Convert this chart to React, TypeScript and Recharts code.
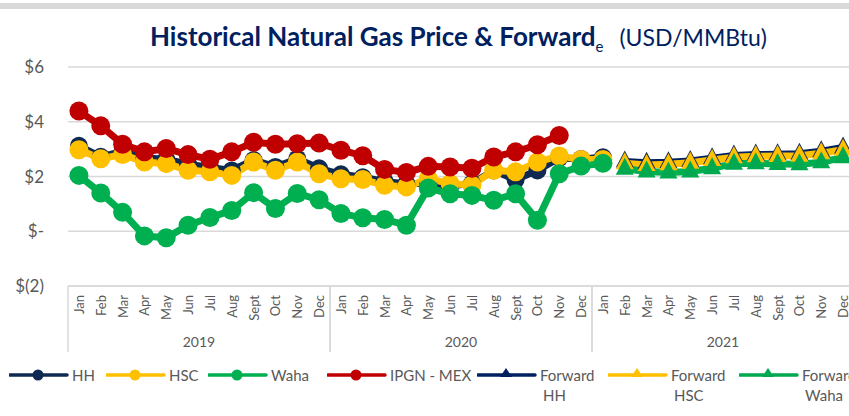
import { LineChart, Line, XAxis, YAxis, CartesianGrid } from 'recharts';

const months = ['Jan', 'Feb', 'Mar', 'Apr', 'May', 'Jun', 'Jul', 'Aug', 'Sept', 'Oct', 'Nov', 'Dec'];
const years = ['2019', '2020', '2021'];
const yTicks = [-2, 0, 2, 4, 6];

// historical, Jan 2019 .. Jan 2021
const hh = [3.12, 2.72, 2.92, 2.68, 2.63, 2.45, 2.33, 2.22, 2.6, 2.35, 2.65, 2.3, 2.08, 1.97, 1.82, 1.73, 1.76, 1.66, 1.74, 2.22, 1.88, 2.22, 2.68, 2.64, 2.7];
const hsc = [2.98, 2.65, 2.8, 2.53, 2.47, 2.23, 2.17, 2.04, 2.53, 2.23, 2.53, 2.1, 1.92, 1.89, 1.68, 1.62, 1.92, 1.74, 1.68, 2.23, 2.17, 2.53, 2.75, 2.62, 2.62];
const waha = [2.04, 1.4, 0.69, -0.17, -0.24, 0.22, 0.5, 0.76, 1.41, 0.83, 1.38, 1.15, 0.65, 0.49, 0.43, 0.22, 1.58, 1.37, 1.31, 1.13, 1.37, 0.4, 2.1, 2.38, 2.48];
// Jan 2019 .. Nov 2020
const ipgn = [4.39, 3.85, 3.18, 2.9, 3.02, 2.8, 2.63, 2.9, 3.25, 3.18, 3.2, 3.22, 2.96, 2.76, 2.26, 2.15, 2.37, 2.35, 2.3, 2.71, 2.9, 3.16, 3.5];
// forward, Feb 2021 .. Dec 2021
const fwdHh = [2.55, 2.5, 2.52, 2.57, 2.67, 2.77, 2.8, 2.81, 2.83, 2.92, 3.06];
const fwdHsc = [2.48, 2.42, 2.45, 2.5, 2.6, 2.7, 2.74, 2.75, 2.76, 2.85, 2.98];
const fwdWaha = [2.28, 2.18, 2.15, 2.18, 2.3, 2.47, 2.48, 2.46, 2.45, 2.52, 2.7];

const FWD_START = 25;

const data = years.flatMap((yr, yi) =>
  months.map((m, mi) => {
    const i = yi * 12 + mi;
    const f = i - FWD_START;
    return {
      key: `${m}-${yr}`,
      hh: hh[i] ?? null,
      hsc: hsc[i] ?? null,
      waha: waha[i] ?? null,
      ipgn: ipgn[i] ?? null,
      fwdHh: f >= 0 ? fwdHh[f] : null,
      fwdHsc: f >= 0 ? fwdHsc[f] : null,
      fwdWaha: f >= 0 ? fwdWaha[f] : null,
    };
  })
);

const NAVY = '#0f2a52';
const GOLD = '#ffc000';
const GREEN = '#00b050';
const RED = '#c00000';
const GREY = '#595959';
const GRID = '#d9d9d9';
const FONT = 'Lato, "Open Sans", sans-serif';

const BAND = 786 / 36;

const fmtY = (v: number) => (v === 0 ? '$-' : v < 0 ? `$(${-v})` : `$${v}`);

function MonthTick(props: any) {
  const { x, y, payload } = props;
  const [m, yr] = String(payload.value).split('-');
  const mi = months.indexOf(m);
  const off = payload.offset || BAND / 2;
  return (
    <g>
      <text
        transform={`translate(${x},${y + 9}) rotate(-90)`}
        textAnchor="end"
        dominantBaseline="central"
        fontSize={13}
        fontFamily={FONT}
        fill={GREY}
      >
        {m}
      </text>
      {mi === 0 && <line x1={x - off} x2={x - off} y1={y} y2={y + 66} stroke={GRID} strokeWidth={1.5} />}
      {mi === 11 && <line x1={x + off} x2={x + off} y1={y} y2={y + 66} stroke={GRID} strokeWidth={1.5} />}
      {mi === 6 && (
        <text x={x - off} y={y + 61} textAnchor="middle" fontSize={14} fontFamily={FONT} fill={GREY}>
          {yr}
        </text>
      )}
    </g>
  );
}

const tri = (color: string) => (props: any) => {
  const { cx, cy, index } = props;
  if (cx == null || cy == null || props.value == null) return <g key={`t${index}`} />;
  return <path key={`t${index}`} d={`M${cx},${cy - 11} L${cx + 9},${cy + 6} L${cx - 9},${cy + 6} Z`} fill={color} />;
};

const legendItems = [
  { label: ['HH'], color: NAVY, shape: 'circle', x: 9 },
  { label: ['HSC'], color: GOLD, shape: 'circle', x: 106 },
  { label: ['Waha'], color: GREEN, shape: 'circle', x: 208 },
  { label: ['IPGN - MEX'], color: RED, shape: 'circle', x: 327 },
  { label: ['Forward', 'HH'], color: '#002060', shape: 'tri', x: 477 },
  { label: ['Forward', 'HSC'], color: GOLD, shape: 'tri', x: 608 },
  { label: ['Forward', 'Waha'], color: '#00a94f', shape: 'tri', x: 739 },
];

export default function App() {
  return (
    <div style={{ position: 'absolute', left: 0, top: 0, width: 849, height: 416, overflow: 'hidden', background: '#fff' }}>
      <div style={{ position: 'absolute', left: 0, top: 3, width: 849, height: 6, background: GRID }} />
      <div
        style={{
          position: 'absolute',
          left: 150,
          top: 21,
          fontFamily: FONT,
          fontSize: 26,
          color: '#002060',
          whiteSpace: 'nowrap',
          lineHeight: '30px',
        }}
      >
        <span style={{ fontWeight: 700 }}>Historical Natural Gas Price &amp; Forward</span>
        <sub style={{ fontSize: 15 }}>e</sub>
        <span style={{ marginLeft: 16, fontSize: 23 }}>(USD/MMBtu)</span>
      </div>
      <LineChart width={860} height={416} data={data} margin={{ top: 67, right: 6, left: 0, bottom: 64 }}>
        <CartesianGrid vertical={false} stroke={GRID} strokeWidth={1.5} />
        <XAxis
          dataKey="key"
          scale="band"
          interval={0}
          height={66}
          tick={<MonthTick />}
          tickLine={false}
          tickSize={0}
          tickMargin={0}
          axisLine={{ stroke: GRID, strokeWidth: 1.5 }}
        />
        <YAxis
          width={68}
          domain={[-2, 6]}
          ticks={yTicks}
          tickFormatter={fmtY}
          axisLine={false}
          tickLine={false}
          tickSize={0}
          tickMargin={24}
          tick={{ fontSize: 17, fill: GREY, fontFamily: FONT }}
        />
        <Line dataKey="hh" stroke={NAVY} strokeWidth={7} dot={{ r: 9, fill: NAVY, stroke: NAVY, strokeWidth: 0 }} isAnimationActive={false} />
        <Line dataKey="hsc" stroke={GOLD} strokeWidth={7} dot={{ r: 9.5, fill: GOLD, stroke: GOLD, strokeWidth: 0 }} isAnimationActive={false} />
        <Line dataKey="waha" stroke={GREEN} strokeWidth={7} dot={{ r: 9.5, fill: GREEN, stroke: GREEN, strokeWidth: 0 }} isAnimationActive={false} />
        <Line dataKey="ipgn" stroke={RED} strokeWidth={7} dot={{ r: 9.5, fill: RED, stroke: RED, strokeWidth: 0 }} isAnimationActive={false} />
        <Line dataKey="fwdHh" stroke="#002060" strokeWidth={7} dot={tri('#14284b')} isAnimationActive={false} />
        <Line dataKey="fwdHsc" stroke={GOLD} strokeWidth={7} dot={tri(GOLD)} isAnimationActive={false} />
        <Line dataKey="fwdWaha" stroke={GREEN} strokeWidth={7} dot={tri('#00a94f')} isAnimationActive={false} />
      </LineChart>
      {legendItems.map((it) => (
        <div key={it.label.join(' ')} style={{ position: 'absolute', left: it.x, top: 366 }}>
          <svg width={60} height={18} style={{ position: 'absolute', left: 0, top: 0 }}>
            <line x1={1} x2={58} y1={9} y2={9} stroke={it.color} strokeWidth={3.5} strokeLinecap="round" />
            {it.shape === 'circle' ? (
              <circle cx={29} cy={9} r={5.5} fill={it.color} />
            ) : (
              <path d="M29,2 L35,11 L23,11 Z" fill={it.color} />
            )}
          </svg>
          <div
            style={{
              position: 'absolute',
              left: 63,
              top: -1,
              fontFamily: FONT,
              fontSize: 15,
              color: GREY,
              lineHeight: '20px',
              whiteSpace: 'nowrap',
            }}
          >
            {it.label.map((l, i) => (
              <div key={i} style={{ paddingLeft: i > 0 ? 3 : 0 }}>
                {l}
              </div>
            ))}
          </div>
        </div>
      ))}
    </div>
  );
}
